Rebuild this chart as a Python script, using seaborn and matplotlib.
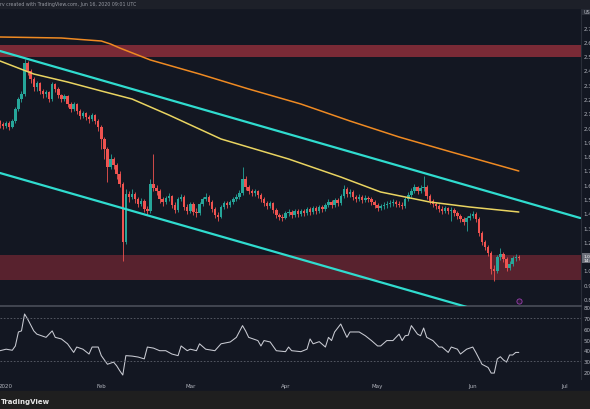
import numpy as np
import pandas as pd
import matplotlib
matplotlib.use("Agg")
import matplotlib.pyplot as plt
import seaborn as sns

# daily candles, starting 2019-12-30 (open = previous close)
start = pd.Timestamp("2019-12-30")
first_open = 2.046
close = [2.025, 2.011, 2.032, 2.004, 2.046, 2.130, 2.200, 2.235, 2.452, 2.396,
         2.340, 2.284, 2.312, 2.256, 2.235, 2.249, 2.200, 2.305, 2.270, 2.228,
         2.200, 2.221, 2.165, 2.130, 2.165, 2.116, 2.081, 2.102, 2.074, 2.060,
         2.088, 2.046, 2.004, 1.920, 1.850, 1.724, 1.780, 1.738, 1.675, 1.605,
         1.199, 1.535, 1.514, 1.535, 1.500, 1.465, 1.486, 1.430, 1.416, 1.605,
         1.577, 1.556, 1.500, 1.479, 1.507, 1.521, 1.458, 1.423, 1.500, 1.514,
         1.444, 1.416, 1.465, 1.409, 1.402, 1.465, 1.500, 1.514, 1.479, 1.430,
         1.388, 1.374, 1.444, 1.472, 1.458, 1.479, 1.500, 1.514, 1.542, 1.640,
         1.584, 1.556, 1.542, 1.556, 1.528, 1.500, 1.472, 1.451, 1.472, 1.423,
         1.388, 1.374, 1.367, 1.402, 1.409, 1.388, 1.416, 1.395, 1.416, 1.402,
         1.430, 1.409, 1.437, 1.416, 1.444, 1.430, 1.458, 1.479, 1.458, 1.493,
         1.472, 1.521, 1.570, 1.535, 1.549, 1.514, 1.500, 1.514, 1.493, 1.507,
         1.500, 1.479, 1.458, 1.437, 1.451, 1.458, 1.465, 1.472, 1.479, 1.465,
         1.458, 1.451, 1.500, 1.528, 1.556, 1.584, 1.556, 1.577, 1.584, 1.521,
         1.486, 1.465, 1.451, 1.430, 1.416, 1.437, 1.416, 1.423, 1.402, 1.381,
         1.360, 1.339, 1.367, 1.381, 1.395, 1.360, 1.262, 1.199, 1.164, 1.122,
         1.010, 0.996, 1.094, 1.115, 1.080, 1.017, 1.045, 1.087, 1.094, 1.087]
high = [2.053, 2.039, 2.046, 2.046, 2.060, 2.144, 2.214, 2.256, 2.480, 2.466,
        2.410, 2.354, 2.326, 2.319, 2.270, 2.263, 2.256, 2.319, 2.312, 2.284,
        2.235, 2.235, 2.228, 2.179, 2.179, 2.172, 2.130, 2.116, 2.109, 2.088,
        2.102, 2.095, 2.060, 2.018, 1.934, 1.864, 1.815, 1.794, 1.752, 1.696,
        1.619, 1.570, 1.556, 1.570, 1.549, 1.514, 1.507, 1.500, 1.451, 1.640,
        1.815, 1.598, 1.570, 1.514, 1.521, 1.542, 1.528, 1.479, 1.514, 1.535,
        1.528, 1.465, 1.479, 1.479, 1.437, 1.479, 1.514, 1.542, 1.528, 1.493,
        1.444, 1.409, 1.458, 1.486, 1.486, 1.493, 1.514, 1.535, 1.563, 1.724,
        1.661, 1.598, 1.570, 1.570, 1.563, 1.542, 1.514, 1.486, 1.486, 1.479,
        1.437, 1.402, 1.395, 1.416, 1.430, 1.423, 1.430, 1.430, 1.430, 1.430,
        1.444, 1.444, 1.451, 1.451, 1.458, 1.458, 1.472, 1.500, 1.493, 1.507,
        1.507, 1.535, 1.598, 1.584, 1.570, 1.563, 1.528, 1.535, 1.528, 1.528,
        1.521, 1.514, 1.493, 1.472, 1.465, 1.479, 1.486, 1.493, 1.500, 1.493,
        1.486, 1.479, 1.514, 1.549, 1.577, 1.605, 1.591, 1.598, 1.661, 1.598,
        1.535, 1.500, 1.479, 1.465, 1.451, 1.451, 1.444, 1.444, 1.437, 1.416,
        1.395, 1.374, 1.381, 1.402, 1.416, 1.409, 1.374, 1.276, 1.211, 1.178,
        1.136, 1.038, 1.108, 1.157, 1.129, 1.094, 1.066, 1.101, 1.115, 1.108]
low = [1.997, 1.990, 1.997, 1.983, 1.997, 2.032, 2.116, 2.179, 2.221, 2.368,
       2.312, 2.256, 2.256, 2.235, 2.207, 2.214, 2.179, 2.186, 2.249, 2.207,
       2.179, 2.186, 2.144, 2.109, 2.116, 2.095, 2.060, 2.067, 2.053, 2.032,
       2.046, 2.025, 1.976, 1.850, 1.780, 1.619, 1.710, 1.710, 1.640, 1.584,
       1.066, 1.185, 1.479, 1.500, 1.472, 1.444, 1.451, 1.409, 1.388, 1.402,
       1.556, 1.528, 1.472, 1.451, 1.465, 1.486, 1.437, 1.402, 1.409, 1.486,
       1.423, 1.395, 1.402, 1.388, 1.374, 1.388, 1.451, 1.486, 1.458, 1.409,
       1.367, 1.346, 1.367, 1.430, 1.437, 1.444, 1.465, 1.486, 1.500, 1.528,
       1.563, 1.535, 1.521, 1.521, 1.507, 1.479, 1.451, 1.430, 1.437, 1.402,
       1.367, 1.353, 1.346, 1.360, 1.381, 1.367, 1.374, 1.374, 1.381, 1.381,
       1.388, 1.388, 1.395, 1.395, 1.402, 1.409, 1.416, 1.444, 1.437, 1.444,
       1.451, 1.458, 1.507, 1.514, 1.514, 1.493, 1.479, 1.486, 1.472, 1.479,
       1.479, 1.458, 1.437, 1.416, 1.423, 1.430, 1.437, 1.444, 1.451, 1.444,
       1.444, 1.430, 1.437, 1.486, 1.514, 1.542, 1.535, 1.542, 1.556, 1.500,
       1.465, 1.444, 1.430, 1.409, 1.395, 1.402, 1.395, 1.346, 1.381, 1.360,
       1.339, 1.318, 1.276, 1.353, 1.367, 1.339, 1.241, 1.178, 1.143, 1.101,
       0.975, 0.926, 0.982, 1.073, 1.059, 0.996, 1.003, 1.031, 1.066, 1.073]

# moving averages (day offset, price)
ma200_days = [0, 20, 26, 33, 36, 39, 44, 49, 57, 65, 81, 98, 114, 130, 147, 169]
ma200_vals = [2.634, 2.627, 2.617, 2.606, 2.585, 2.557, 2.515, 2.473, 2.424,
              2.375, 2.270, 2.165, 2.046, 1.934, 1.829, 1.696]
ma100_days = [0, 11, 22, 33, 43, 55, 72, 83, 94, 111, 124, 140, 153, 169]
ma100_vals = [2.466, 2.375, 2.319, 2.256, 2.200, 2.088, 1.920, 1.850, 1.780,
              1.654, 1.549, 1.479, 1.444, 1.409]

# descending channel (day offset, price)
chan_top_days = [0, 189]
chan_top_vals = [2.536, 1.367]
chan_bot_days = [0, 155]
chan_bot_vals = [1.682, 0.726]

# horizontal zones (low, high)
resistance_zone = (2.494, 2.578)
support_zone = (0.933, 1.108)

# RSI readings (day offset, value)
rsi_days = [0, 2, 4, 5, 6, 7, 8, 9, 11, 12, 15, 17, 18, 20, 22, 24, 25, 27, 29, 30,
            32, 33, 35, 37, 38, 39, 40, 41, 43, 45, 47, 48, 50, 52, 54, 56, 58, 59,
            61, 62, 64, 65, 67, 70, 72, 75, 77, 79, 80, 81, 84, 85, 86, 88, 90, 93,
            94, 95, 98, 100, 101, 102, 104, 106, 107, 108, 109, 111, 113, 114, 117,
            119, 121, 123, 124, 126, 128, 130, 131, 132, 133, 134, 136, 137, 138,
            139, 141, 143, 144, 146, 147, 149, 150, 152, 154, 155, 157, 159, 160,
            161, 162, 163, 164, 165, 166, 167, 168, 169]
rsi_vals = [39.6, 41, 40, 44, 57, 58, 73.7, 69, 58, 55, 52, 58, 52, 50.5, 46, 38, 43,
            41, 36.5, 43, 43, 35, 27, 29, 25.6, 21, 17, 35, 34.6, 33.7, 32, 43, 42,
            39.6, 39.6, 36.5, 35, 44, 39.6, 41, 39.6, 46, 41, 39.6, 46, 47.7, 52,
            62.9, 58, 52, 49, 44, 49, 47.7, 39.6, 38.7, 43, 39.6, 38.7, 41, 50.5,
            46, 48, 43, 52, 49, 57, 64.4, 52, 57, 57, 53.5, 49, 44, 44, 49, 49, 55,
            49, 53.5, 54, 62.9, 55, 53.5, 60.7, 52, 49, 43, 43, 38, 43, 41, 36.5,
            41, 43, 38, 27, 24, 18.8, 18.8, 32, 34, 31, 29, 35.6, 35.6, 38, 38]

price_ticks = [0.8, 0.9, 1.0, 1.2, 1.3, 1.4, 1.5, 1.6, 1.7, 1.8, 1.9, 2.0,
               2.1, 2.2, 2.3, 2.4, 2.5, 2.6, 2.7]
rsi_ticks = [20, 30, 40, 50, 60, 70, 80]
month_ticks = ["2020-01-01", "2020-02-01", "2020-03-01", "2020-04-01",
               "2020-05-01", "2020-06-01", "2020-07-01"]
month_labels = ["2020", "Feb", "Mar", "Apr", "May", "Jun", "Jul"]

bg = "#131722"
txt = "#b2b5be"
up_col = "#26a69a"
down_col = "#ef5350"

sns.set_style("dark")
plt.rcParams["font.family"] = ["DejaVu Sans"]

dates = pd.date_range(start, periods=len(close), freq="D")
df = pd.DataFrame({"date": dates, "open": [first_open] + close[:-1],
                   "high": high, "low": low, "close": close})
df["up"] = df["close"] >= df["open"]
colors = np.where(df["up"], up_col, down_col)

to_date = lambda days: start + pd.to_timedelta(days, unit="D")

fig = plt.figure(figsize=(5.9, 4.1), dpi=100, facecolor=bg)
ax = fig.add_axes([0, 0.25122, 0.9847, 0.72439])
ax_rsi = fig.add_axes([0, 0.07317, 0.9847, 0.17561], sharex=ax)
for a in (ax, ax_rsi):
    a.set_facecolor(bg)
    for s in a.spines.values():
        s.set_visible(False)
    a.spines["right"].set_visible(True)
    a.spines["right"].set_color("#2a2e39")
    a.spines["right"].set_linewidth(0.8)
    a.grid(False)
ax.spines["bottom"].set_visible(True)
ax.spines["bottom"].set_color("#4a4e59")
ax.spines["bottom"].set_linewidth(1.2)

# zones
ax.axhspan(*resistance_zone, color="#7a2a36", zorder=1, lw=0)
ax.axhspan(*support_zone, color="#58222e", zorder=1, lw=0)

# candles
body_lo = df[["open", "close"]].min(axis=1)
body_h = (df["close"] - df["open"]).abs().clip(lower=0.004)
ax.vlines(df["date"], df["low"], df["high"], colors=colors, lw=0.6, zorder=3)
ax.bar(df["date"], body_h, bottom=body_lo, width=0.8, color=colors, zorder=4, lw=0)

# moving averages
ma200 = pd.DataFrame({"date": to_date(ma200_days), "price": ma200_vals})
ma100 = pd.DataFrame({"date": to_date(ma100_days), "price": ma100_vals})
sns.lineplot(data=ma200, x="date", y="price", ax=ax, color="#ef8a22", lw=1.1, zorder=5)
sns.lineplot(data=ma100, x="date", y="price", ax=ax, color="#e9d461", lw=1.1, zorder=5)

# channel
ax.plot(to_date(chan_top_days), chan_top_vals, color="#30dccf", lw=1.6, zorder=6)
ax.plot(to_date(chan_bot_days), chan_bot_vals, color="#30dccf", lw=1.6, zorder=6)

# event marker
ax.scatter([dates[-1]], [0.786], s=14, facecolor="#2a1a36", edgecolor="#9c3fb0",
           lw=0.6, zorder=7)

ax.set_xlim(start, start + pd.Timedelta(days=189.25))
ax.set_ylim(0.751, 2.83)
ax.set_xlabel("")
ax.set_ylabel("")
ax.yaxis.tick_right()
ax.set_yticks(price_ticks)
ax.set_yticklabels([f"{v:.2f}" for v in price_ticks])
ax.tick_params(axis="y", colors=txt, labelsize=4, length=0, pad=2)
ax.tick_params(axis="x", bottom=False, labelbottom=False)

# last price tag and currency box
ax.text(1.004, close[-1], f"{close[-1]:.3f}\n14:58", transform=ax.get_yaxis_transform(),
        fontsize=3.2, color="white", va="center", ha="left", linespacing=1.0,
        bbox=dict(boxstyle="square,pad=0.3", fc="#6a6d78", ec="none"))
ax.text(1.004, 0.993, "USD", transform=ax.transAxes, fontsize=3.6, color=txt,
        va="center", ha="left",
        bbox=dict(boxstyle="square,pad=0.3", fc="#2a2e39", ec="none"))

# RSI pane
rsi = pd.DataFrame({"date": to_date(rsi_days), "rsi": rsi_vals})
sns.lineplot(data=rsi, x="date", y="rsi", ax=ax_rsi, color="#c9cbd3", lw=0.75)
for lvl in (70, 30):
    ax_rsi.axhline(lvl, color="#5d606b", lw=0.6, ls=(0, (2, 2)))
ax_rsi.set_ylim(13.3, 80.2)
ax_rsi.set_xlabel("")
ax_rsi.set_ylabel("")
ax_rsi.yaxis.tick_right()
ax_rsi.set_yticks(rsi_ticks)
ax_rsi.set_yticklabels([f"{v:.2f}" for v in rsi_ticks])
ax_rsi.tick_params(axis="y", colors=txt, labelsize=4, length=0, pad=2)
ax_rsi.set_xticks(pd.to_datetime(month_ticks))
ax_rsi.set_xticklabels(month_labels)
ax_rsi.tick_params(axis="x", colors=txt, labelsize=4, length=0, pad=3, bottom=True,
                   labelbottom=True)

# header / footer strips
fig.patches.append(plt.Rectangle((0, 1 - 9 / 410), 1, 9 / 410, transform=fig.transFigure,
                                 color="#1d2029", zorder=0))
fig.patches.append(plt.Rectangle((0, 0), 1, 18 / 410, transform=fig.transFigure,
                                 color="#1f1f1f", zorder=0))
fig.text(0.0, 1 - 4.5 / 410, "rv created with TradingView.com, Jun 16, 2020 09:01 UTC",
         fontsize=3.4, color="#9598a1", va="center", ha="left")
fig.text(0.002, 8 / 410, "TradingView", fontsize=5, fontweight="bold",
         color="#e6e6e6", va="center", ha="left")

fig.savefig("out.png", dpi=100, facecolor=bg)
plt.close(fig)
